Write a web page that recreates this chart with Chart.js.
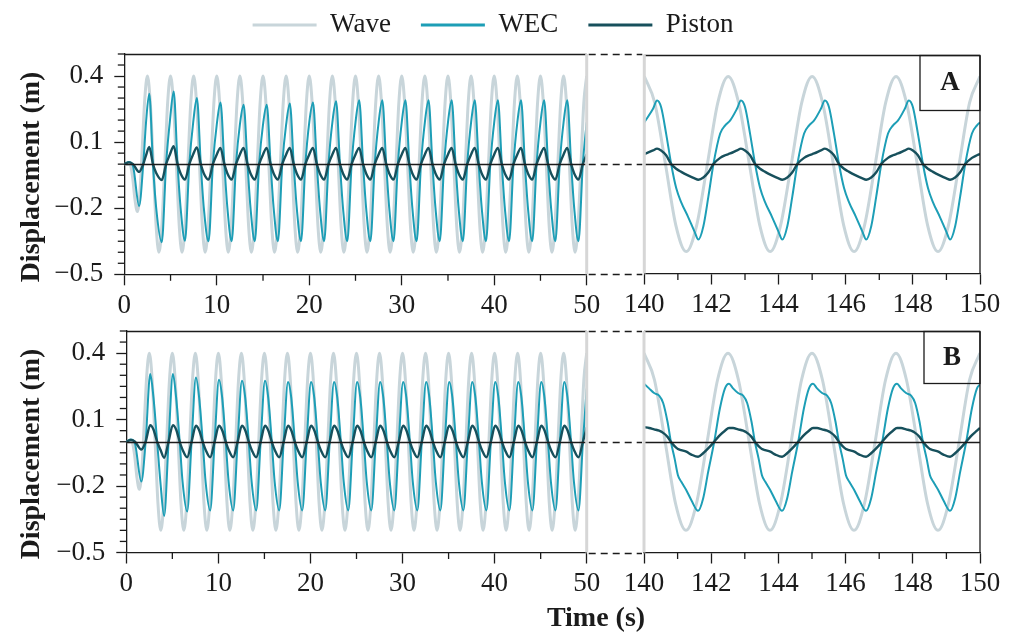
<!DOCTYPE html>
<html>
<head>
<meta charset="utf-8">
<title>Wave, WEC and piston displacement</title>
<script src="https://cdn.jsdelivr.net/npm/chart.js@4.4.1/dist/chart.umd.min.js"></script>
<style>
  html, body { margin: 0; padding: 0; background: #fff; overflow: hidden; }
  #fig { position: relative; width: 1014px; height: 632px; }
  #fig canvas { position: absolute; left: 0; top: 0; }
  #fig canvas#legend { top: -19px; }
</style>
</head>
<body>
<div id="fig">
  <canvas id="topLeft" width="1014" height="632"></canvas>
  <canvas id="topRight" width="1014" height="632"></canvas>
  <canvas id="botLeft" width="1014" height="632"></canvas>
  <canvas id="botRight" width="1014" height="632"></canvas>
  <canvas id="legend" width="1014" height="632"></canvas>
</div>
<script>
// ---------- data ----------
const seriesNames = ['Wave', 'WEC', 'Piston'];

const yTicks = [-0.5, -0.2, 0.1, 0.4];
const yMinorTicks = [-0.45, -0.4, -0.35, -0.3, -0.25, -0.15, -0.1, -0.05, 0,
  0.05, 0.15, 0.2, 0.25, 0.3, 0.35, 0.45, 0.5];
const xTicksLeft = [0, 10, 20, 30, 40, 50];
const xMinorLeft = [5, 15, 25, 35, 45];
const xTicksRight = [140, 142, 144, 146, 148, 150];
const xMinorRight = [141, 143, 145, 147, 149];

// incoming wave, same in both runs
const waveLeftT = [
  0, 0.6, 0.9, 1.15, 1.42, 1.7, 1.96, 2.22,
  2.5, 2.81, 3.13, 3.44, 3.75, 4.06, 4.38, 4.69,
  5, 5.31, 5.63, 5.94, 6.25, 6.56, 6.88, 7.19,
  7.5, 7.81, 8.13, 8.44, 8.75, 9.06, 9.38, 9.69,
  10, 10.31, 10.63, 10.94, 11.25, 11.56, 11.88, 12.19,
  12.5, 12.81, 13.13, 13.44, 13.75, 14.06, 14.38, 14.69,
  15, 15.31, 15.63, 15.94, 16.25, 16.56, 16.88, 17.19,
  17.5, 17.81, 18.13, 18.44, 18.75, 19.06, 19.38, 19.69,
  20, 20.31, 20.63, 20.94, 21.25, 21.56, 21.88, 22.19,
  22.5, 22.81, 23.13, 23.44, 23.75, 24.06, 24.38, 24.69,
  25, 25.31, 25.63, 25.94, 26.25, 26.56, 26.88, 27.19,
  27.5, 27.81, 28.13, 28.44, 28.75, 29.06, 29.38, 29.69,
  30, 30.31, 30.63, 30.94, 31.25, 31.56, 31.88, 32.19,
  32.5, 32.81, 33.13, 33.44, 33.75, 34.06, 34.38, 34.69,
  35, 35.31, 35.63, 35.94, 36.25, 36.56, 36.88, 37.19,
  37.5, 37.81, 38.13, 38.44, 38.75, 39.06, 39.38, 39.69,
  40, 40.31, 40.63, 40.94, 41.25, 41.56, 41.88, 42.19,
  42.5, 42.81, 43.13, 43.44, 43.75, 44.06, 44.38, 44.69,
  45, 45.31, 45.63, 45.94, 46.25, 46.56, 46.88, 47.19,
  47.5, 47.81, 48.13, 48.44, 48.75, 49.06, 49.38, 49.69,
  50
];
const waveLeft = [
  0, 0, -0.06, -0.16, -0.215, -0.12, 0.09, 0.3,
  0.4, 0.28, 0, -0.28, -0.4, -0.28, 0, 0.28,
  0.4, 0.28, 0, -0.28, -0.4, -0.28, 0, 0.28,
  0.4, 0.28, 0, -0.28, -0.4, -0.28, 0, 0.28,
  0.4, 0.28, 0, -0.28, -0.4, -0.28, 0, 0.28,
  0.4, 0.28, 0, -0.28, -0.4, -0.28, 0, 0.28,
  0.4, 0.28, 0, -0.28, -0.4, -0.28, 0, 0.28,
  0.4, 0.28, 0, -0.28, -0.4, -0.28, 0, 0.28,
  0.4, 0.28, 0, -0.28, -0.4, -0.28, 0, 0.28,
  0.4, 0.28, 0, -0.28, -0.4, -0.28, 0, 0.28,
  0.4, 0.28, 0, -0.28, -0.4, -0.28, 0, 0.28,
  0.4, 0.28, 0, -0.28, -0.4, -0.28, 0, 0.28,
  0.4, 0.28, 0, -0.28, -0.4, -0.28, 0, 0.28,
  0.4, 0.28, 0, -0.28, -0.4, -0.28, 0, 0.28,
  0.4, 0.28, 0, -0.28, -0.4, -0.28, 0, 0.28,
  0.4, 0.28, 0, -0.28, -0.4, -0.28, 0, 0.28,
  0.4, 0.28, 0, -0.28, -0.4, -0.28, 0, 0.28,
  0.4, 0.28, 0, -0.28, -0.4, -0.28, 0, 0.28,
  0.4, 0.28, 0, -0.28, -0.4, -0.28, 0, 0.28,
  0.4, 0.28, 0, -0.28, -0.4, -0.28, 0, 0.28,
  0.4
];
const waveRightT = [
  140, 140.31, 140.63, 140.94, 141.25, 141.56, 141.88, 142.19,
  142.5, 142.81, 143.13, 143.44, 143.75, 144.06, 144.38, 144.69,
  145, 145.31, 145.63, 145.94, 146.25, 146.56, 146.88, 147.19,
  147.5, 147.81, 148.13, 148.44, 148.75, 149.06, 149.38, 149.69,
  150
];
const waveRight = [
  0.4, 0.28, 0, -0.28, -0.4, -0.28, 0, 0.28,
  0.4, 0.28, 0, -0.28, -0.4, -0.28, 0, 0.28,
  0.4, 0.28, 0, -0.28, -0.4, -0.28, 0, 0.28,
  0.4, 0.28, 0, -0.28, -0.4, -0.28, 0, 0.28,
  0.4
];

// run A, 0-50 s
const leftTimeA = [
  0, 0.5, 0.95, 1.6, 2.05, 2.35, 2.7, 3.1, 3.45,
  4.05, 4.52, 4.94, 5.34, 5.76, 6.09,
  6.56, 7.03, 7.45, 7.85, 8.27, 8.6,
  9.11, 9.58, 10, 10.4, 10.82, 11.15,
  11.61, 12.08, 12.5, 12.9, 13.32, 13.65,
  14.11, 14.58, 15, 15.4, 15.82, 16.15,
  16.61, 17.08, 17.5, 17.9, 18.32, 18.65,
  19.11, 19.58, 20, 20.4, 20.82, 21.15,
  21.61, 22.08, 22.5, 22.9, 23.32, 23.65,
  24.11, 24.58, 25, 25.4, 25.82, 26.15,
  26.61, 27.08, 27.5, 27.9, 28.32, 28.65,
  29.11, 29.58, 30, 30.4, 30.82, 31.15,
  31.61, 32.08, 32.5, 32.9, 33.32, 33.65,
  34.11, 34.58, 35, 35.4, 35.82, 36.15,
  36.61, 37.08, 37.5, 37.9, 38.32, 38.65,
  39.11, 39.58, 40, 40.4, 40.82, 41.15,
  41.61, 42.08, 42.5, 42.9, 43.32, 43.65,
  44.11, 44.58, 45, 45.4, 45.82, 46.15,
  46.61, 47.08, 47.5, 47.9, 48.32, 48.65,
  49.11, 49.58, 50
];
const wecLeftA = [
  0, 0.01, -0.01, -0.19, 0, 0.19, 0.32, 0, -0.2,
  -0.355, 0, 0.2, 0.33, 0, -0.2,
  -0.348, 0, 0.19, 0.3, 0, -0.2,
  -0.35, 0, 0.18, 0.28, 0, -0.2,
  -0.35, 0, 0.18, 0.27, 0, -0.2,
  -0.35, 0, 0.18, 0.27, 0, -0.2,
  -0.35, 0, 0.18, 0.275, 0, -0.2,
  -0.35, 0, 0.19, 0.28, 0, -0.2,
  -0.35, 0, 0.19, 0.285, 0, -0.2,
  -0.35, 0, 0.19, 0.29, 0, -0.2,
  -0.35, 0, 0.19, 0.29, 0, -0.2,
  -0.35, 0, 0.19, 0.29, 0, -0.2,
  -0.35, 0, 0.19, 0.29, 0, -0.2,
  -0.35, 0, 0.19, 0.29, 0, -0.2,
  -0.35, 0, 0.19, 0.29, 0, -0.2,
  -0.35, 0, 0.19, 0.29, 0, -0.2,
  -0.35, 0, 0.19, 0.29, 0, -0.2,
  -0.35, 0, 0.19, 0.29, 0, -0.2,
  -0.35, 0, 0.19, 0.29, 0, -0.2,
  -0.35, 0, 0.19
];
const pistonLeftA = [
  0, 0.008, 0, -0.035, 0, 0.04, 0.078, 0, -0.04,
  -0.072, 0, 0.045, 0.082, 0, -0.042,
  -0.07, 0, 0.045, 0.076, 0, -0.042,
  -0.07, 0, 0.044, 0.074, 0, -0.042,
  -0.07, 0, 0.044, 0.074, 0, -0.042,
  -0.07, 0, 0.044, 0.074, 0, -0.042,
  -0.07, 0, 0.044, 0.074, 0, -0.042,
  -0.07, 0, 0.044, 0.074, 0, -0.042,
  -0.07, 0, 0.044, 0.074, 0, -0.042,
  -0.07, 0, 0.044, 0.074, 0, -0.042,
  -0.07, 0, 0.044, 0.074, 0, -0.042,
  -0.07, 0, 0.044, 0.074, 0, -0.042,
  -0.07, 0, 0.044, 0.074, 0, -0.042,
  -0.07, 0, 0.044, 0.074, 0, -0.042,
  -0.07, 0, 0.044, 0.074, 0, -0.042,
  -0.07, 0, 0.044, 0.074, 0, -0.042,
  -0.07, 0, 0.044, 0.074, 0, -0.042,
  -0.07, 0, 0.044, 0.074, 0, -0.042,
  -0.07, 0, 0.044, 0.074, 0, -0.042,
  -0.07, 0, 0.045
];

// run B, 0-50 s
const leftTimeB = [
  0, 0.5, 0.95, 1.63, 2.1, 2.6, 2.95, 3.35, 3.7,
  4.11, 4.59, 5.06, 5.41, 5.8, 6.11,
  6.61, 7.09, 7.56, 7.91, 8.3, 8.61,
  9.11, 9.59, 10.06, 10.41, 10.8, 11.11,
  11.61, 12.09, 12.56, 12.91, 13.3, 13.61,
  14.11, 14.59, 15.06, 15.41, 15.8, 16.11,
  16.61, 17.09, 17.56, 17.91, 18.3, 18.61,
  19.11, 19.59, 20.06, 20.41, 20.8, 21.11,
  21.61, 22.09, 22.56, 22.91, 23.3, 23.61,
  24.11, 24.59, 25.06, 25.41, 25.8, 26.11,
  26.61, 27.09, 27.56, 27.91, 28.3, 28.61,
  29.11, 29.59, 30.06, 30.41, 30.8, 31.11,
  31.61, 32.09, 32.56, 32.91, 33.3, 33.61,
  34.11, 34.59, 35.06, 35.41, 35.8, 36.11,
  36.61, 37.09, 37.56, 37.91, 38.3, 38.61,
  39.11, 39.59, 40.06, 40.41, 40.8, 41.11,
  41.61, 42.09, 42.56, 42.91, 43.3, 43.61,
  44.11, 44.59, 45.06, 45.41, 45.8, 46.11,
  46.61, 47.09, 47.56, 47.91, 48.3, 48.61,
  49.11, 49.59, 50
];
const wecLeftB = [
  0, 0.01, -0.01, -0.18, 0, 0.306, 0.2, 0, -0.18,
  -0.335, 0, 0.306, 0.2, 0, -0.18,
  -0.315, 0, 0.29, 0.2, 0, -0.18,
  -0.31, 0, 0.28, 0.2, 0, -0.18,
  -0.31, 0, 0.275, 0.2, 0, -0.18,
  -0.31, 0, 0.275, 0.2, 0, -0.18,
  -0.31, 0, 0.27, 0.2, 0, -0.18,
  -0.31, 0, 0.27, 0.2, 0, -0.18,
  -0.31, 0, 0.27, 0.2, 0, -0.18,
  -0.31, 0, 0.27, 0.2, 0, -0.18,
  -0.31, 0, 0.27, 0.2, 0, -0.18,
  -0.31, 0, 0.27, 0.2, 0, -0.18,
  -0.31, 0, 0.27, 0.2, 0, -0.18,
  -0.31, 0, 0.27, 0.2, 0, -0.18,
  -0.31, 0, 0.27, 0.2, 0, -0.18,
  -0.31, 0, 0.27, 0.2, 0, -0.18,
  -0.31, 0, 0.27, 0.2, 0, -0.18,
  -0.31, 0, 0.27, 0.2, 0, -0.18,
  -0.31, 0, 0.27, 0.2, 0, -0.18,
  -0.31, 0, 0.24
];
const pistonLeftB = [
  0, 0.008, 0, -0.035, 0, 0.075, 0.055, 0, -0.035,
  -0.072, 0, 0.075, 0.055, 0, -0.036,
  -0.07, 0, 0.072, 0.052, 0, -0.036,
  -0.07, 0, 0.072, 0.052, 0, -0.036,
  -0.07, 0, 0.072, 0.052, 0, -0.036,
  -0.07, 0, 0.072, 0.052, 0, -0.036,
  -0.07, 0, 0.072, 0.052, 0, -0.036,
  -0.07, 0, 0.072, 0.052, 0, -0.036,
  -0.07, 0, 0.072, 0.052, 0, -0.036,
  -0.07, 0, 0.072, 0.052, 0, -0.036,
  -0.07, 0, 0.072, 0.052, 0, -0.036,
  -0.07, 0, 0.072, 0.052, 0, -0.036,
  -0.07, 0, 0.072, 0.052, 0, -0.036,
  -0.07, 0, 0.072, 0.052, 0, -0.036,
  -0.07, 0, 0.072, 0.052, 0, -0.036,
  -0.07, 0, 0.072, 0.052, 0, -0.036,
  -0.07, 0, 0.072, 0.052, 0, -0.036,
  -0.07, 0, 0.072, 0.052, 0, -0.036,
  -0.07, 0, 0.072, 0.052, 0, -0.036,
  -0.07, 0, 0.065
];

// run A, 140-150 s
const rightTimeA = [
  140, 140.26, 140.38, 140.5, 140.65, 140.8, 140.95, 141.1, 141.3, 141.5,
  141.61, 141.76, 141.91, 142.06, 142.26, 142.41, 142.56, 142.76,
  142.88, 143, 143.15, 143.3, 143.45, 143.6, 143.8, 144,
  144.11, 144.26, 144.41, 144.56, 144.76, 144.91, 145.06, 145.26,
  145.38, 145.5, 145.65, 145.8, 145.95, 146.1, 146.3, 146.5,
  146.61, 146.76, 146.91, 147.06, 147.26, 147.41, 147.56, 147.76,
  147.88, 148, 148.15, 148.3, 148.45, 148.6, 148.8, 149,
  149.11, 149.26, 149.41, 149.56, 149.76, 149.91, 150
];
const wecRightA = [
  0.19, 0.252, 0.29, 0.26, 0.139, 0, -0.11, -0.175, -0.24, -0.31,
  -0.345, -0.284, -0.148, 0, 0.139, 0.176, 0.199, 0.252,
  0.29, 0.26, 0.139, 0, -0.11, -0.175, -0.24, -0.31,
  -0.345, -0.284, -0.148, 0, 0.139, 0.176, 0.199, 0.252,
  0.29, 0.26, 0.139, 0, -0.11, -0.175, -0.24, -0.31,
  -0.345, -0.284, -0.148, 0, 0.139, 0.176, 0.199, 0.252,
  0.29, 0.26, 0.139, 0, -0.11, -0.175, -0.24, -0.31,
  -0.345, -0.284, -0.148, 0, 0.139, 0.176, 0.19
];
const pistonRightA = [
  0.046, 0.062, 0.07, 0.062, 0.04, 0, -0.022, -0.036, -0.052, -0.066,
  -0.072, -0.062, -0.038, 0, 0.028, 0.04, 0.048, 0.062,
  0.07, 0.062, 0.04, 0, -0.022, -0.036, -0.052, -0.066,
  -0.072, -0.062, -0.038, 0, 0.028, 0.04, 0.048, 0.062,
  0.07, 0.062, 0.04, 0, -0.022, -0.036, -0.052, -0.066,
  -0.072, -0.062, -0.038, 0, 0.028, 0.04, 0.048, 0.062,
  0.07, 0.062, 0.04, 0, -0.022, -0.036, -0.052, -0.066,
  -0.072, -0.062, -0.038, 0, 0.028, 0.04, 0.046
];

// run B, 140-150 s
const rightTimeB = [
  140, 140.15, 140.3, 140.45, 140.57, 140.7, 140.8, 140.91, 141.01, 141.11, 141.26, 141.41,
  141.61, 141.76, 141.91, 142.09, 142.26, 142.41, 142.53, 142.65, 142.8,
  142.95, 143.07, 143.2, 143.3, 143.41, 143.51, 143.61, 143.76, 143.91,
  144.11, 144.26, 144.41, 144.59, 144.76, 144.91, 145.03, 145.15, 145.3,
  145.45, 145.57, 145.7, 145.8, 145.91, 146.01, 146.11, 146.26, 146.41,
  146.61, 146.76, 146.91, 147.09, 147.26, 147.41, 147.53, 147.65, 147.8,
  147.95, 148.07, 148.2, 148.3, 148.41, 148.51, 148.61, 148.76, 148.91,
  149.11, 149.26, 149.41, 149.59, 149.76, 149.91, 150
];
const wecRightB = [
  0.262, 0.241, 0.22, 0.208, 0.175, 0.09, 0, -0.075, -0.151, -0.181, -0.219, -0.264,
  -0.312, -0.256, -0.136, 0, 0.151, 0.241, 0.262, 0.241, 0.22,
  0.208, 0.175, 0.09, 0, -0.075, -0.151, -0.181, -0.219, -0.264,
  -0.312, -0.256, -0.136, 0, 0.151, 0.241, 0.262, 0.241, 0.22,
  0.208, 0.175, 0.09, 0, -0.075, -0.151, -0.181, -0.219, -0.264,
  -0.312, -0.256, -0.136, 0, 0.151, 0.241, 0.262, 0.241, 0.22,
  0.208, 0.175, 0.09, 0, -0.075, -0.151, -0.181, -0.219, -0.264,
  -0.312, -0.256, -0.136, 0, 0.151, 0.241, 0.258
];
const pistonRightB = [
  0.066, 0.062, 0.056, 0.05, 0.04, 0.022, 0, -0.02, -0.033, -0.038, -0.045, -0.058,
  -0.068, -0.052, -0.03, 0, 0.03, 0.05, 0.062, 0.062, 0.056,
  0.05, 0.04, 0.022, 0, -0.02, -0.033, -0.038, -0.045, -0.058,
  -0.068, -0.052, -0.03, 0, 0.03, 0.05, 0.062, 0.062, 0.056,
  0.05, 0.04, 0.022, 0, -0.02, -0.033, -0.038, -0.045, -0.058,
  -0.068, -0.052, -0.03, 0, 0.03, 0.05, 0.062, 0.062, 0.056,
  0.05, 0.04, 0.022, 0, -0.02, -0.033, -0.038, -0.045, -0.058,
  -0.068, -0.052, -0.03, 0, 0.03, 0.05, 0.062
];

// ---------- look ----------
const FIG_W = 1014, FIG_H = 632;
const AXIS_Y_W = 70, AXIS_X_H = 60;
const ink = '#1b1b1b';
const serif = '"Liberation Serif", "Times New Roman", serif';
const colors = { wave: '#c8d5da', wec: '#1d9eb6', piston: '#17505c' };

// plot areas in page pixels
const areas = {
  topLeft:  { l: 124.3, t: 54,   r: 586.7, b: 274.3 },
  topRight: { l: 644.3, t: 54.5, r: 980,   b: 273.5 },
  botLeft:  { l: 126.3, t: 331,  r: 586.7, b: 552.5 },
  botRight: { l: 644,   t: 331,  r: 980,   b: 552.5 }
};

Chart.defaults.font.family = serif;
Chart.defaults.color = ink;
Chart.defaults.animation = false;

const pts = (ts, vs) => ts.map((t, i) => ({ x: t, y: vs[i] }));
const fmtY = v => (v < 0 ? '\u2212' : '') + Math.abs(v).toFixed(1);
const crisp = v => Math.round(v) + 0.5;

function seg(ctx, x1, y1, x2, y2) {
  ctx.beginPath();
  ctx.moveTo(x1, y1);
  ctx.lineTo(x2, y2);
  ctx.stroke();
}

// frame, zero line, minor ticks, axis-break marks, panel tag and titles
const panelDecor = {
  id: 'panelDecor',
  afterDatasetsDraw(chart, args, o) {
    const { ctx, chartArea: a } = chart;
    const x = chart.scales.x, y = chart.scales.y;
    const y0 = crisp(y.getPixelForValue(0));
    const top = crisp(a.top);
    ctx.save();
    ctx.setLineDash([]);
    ctx.strokeStyle = ink;
    ctx.lineWidth = 1.3;
    seg(ctx, a.left, y0, a.right, y0);
    seg(ctx, a.left, top, a.right, top);
    if (o.side === 'right') seg(ctx, a.right, top, a.right, a.bottom);

    o.minorX.forEach(v => {
      const px = x.getPixelForValue(v);
      seg(ctx, px, a.bottom, px, a.bottom + 6.5);
    });
    (o.minorY || []).forEach(v => {
      const py = y.getPixelForValue(v);
      seg(ctx, a.left - 6.5, py, a.left, py);
    });

    if (o.linkTo) {
      ctx.setLineDash([7, 5]);
      [top, y0, crisp(a.bottom)].forEach(py => seg(ctx, a.right + 2, py, o.linkTo - 2, py));
      ctx.setLineDash([]);
    }

    ctx.strokeStyle = '#d6d6d6';
    ctx.lineWidth = 3;
    const bx = o.side === 'left' ? a.right : a.left;
    seg(ctx, bx, a.top, bx, a.bottom);

    ctx.fillStyle = ink;
    ctx.textAlign = 'center';
    ctx.textBaseline = 'middle';
    if (o.tag) {
      ctx.strokeStyle = ink;
      ctx.lineWidth = 1.3;
      ctx.strokeRect(a.right - o.tag.w, top, o.tag.w, o.tag.h);
      ctx.font = 'bold 27px ' + serif;
      ctx.fillText(o.tag.text, a.right - o.tag.w / 2, a.top + o.tag.h / 2 + 1);
    }
    if (o.yTitle) {
      ctx.save();
      ctx.translate(o.yTitle.x, o.yTitle.y);
      ctx.rotate(-Math.PI / 2);
      ctx.font = 'bold 28px ' + serif;
      ctx.fillText(o.yTitle.text, 0, 0);
      ctx.restore();
    }
    if (o.xTitle) {
      ctx.font = 'bold 28px ' + serif;
      ctx.fillText(o.xTitle.text, o.xTitle.x, o.xTitle.y);
    }
    ctx.restore();
  }
};

function lines(wave, wec, piston) {
  const base = { pointRadius: 0, fill: false, cubicInterpolationMode: 'monotone', borderJoinStyle: 'round' };
  return [
    { ...base, label: seriesNames[0], data: wave, borderColor: colors.wave, borderWidth: 3, order: 3 },
    { ...base, label: seriesNames[1], data: wec, borderColor: colors.wec, borderWidth: 2, order: 2 },
    { ...base, label: seriesNames[2], data: piston, borderColor: colors.piston, borderWidth: 2.4, order: 1 }
  ];
}

function panel(id, side, xTicks, decor, datasets) {
  const area = areas[id];
  const left = side === 'left';
  const tickFont = { size: 27 };
  return new Chart(document.getElementById(id), {
    type: 'line',
    data: { datasets },
    options: {
      responsive: false,
      events: [],
      layout: {
        // the y axis keeps its fixed width even where it is hidden
        padding: {
          left: area.l - AXIS_Y_W,
          top: area.t,
          right: FIG_W - area.r,
          bottom: FIG_H - area.b - AXIS_X_H
        }
      },
      plugins: {
        legend: { display: false },
        tooltip: { enabled: false },
        panelDecor: { side, ...decor }
      },
      scales: {
        x: {
          type: 'linear',
          min: xTicks[0],
          max: xTicks[xTicks.length - 1],
          afterBuildTicks: s => { s.ticks = xTicks.map(v => ({ value: v })); },
          afterFit: s => { s.height = AXIS_X_H; },
          grid: { drawOnChartArea: false, tickLength: 11, tickWidth: 1.3, tickColor: ink },
          border: { color: ink, width: 1.3 },
          ticks: { font: tickFont, color: ink, padding: 4, maxRotation: 0, autoSkip: false,
                   callback: v => String(v) }
        },
        y: {
          type: 'linear',
          display: left,
          min: -0.5,
          max: 0.5,
          afterBuildTicks: s => { s.ticks = yTicks.map(v => ({ value: v })); },
          afterFit: s => { s.width = AXIS_Y_W; },
          grid: { drawOnChartArea: false, tickLength: 10, tickWidth: 1.3, tickColor: ink },
          border: { color: ink, width: 1.3 },
          ticks: { font: tickFont, color: ink, padding: 11, autoSkip: false, callback: v => fmtY(v) }
        }
      }
    },
    plugins: [panelDecor]
  });
}

panel('topLeft', 'left', xTicksLeft, {
  minorX: xMinorLeft, minorY: yMinorTicks, linkTo: areas.topRight.l,
  yTitle: { text: 'Displacement (m)', x: 32, y: 177 }
}, lines(pts(waveLeftT, waveLeft), pts(leftTimeA, wecLeftA), pts(leftTimeA, pistonLeftA)));

panel('topRight', 'right', xTicksRight, {
  minorX: xMinorRight, tag: { text: 'A', w: 60, h: 55 }
}, lines(pts(waveRightT, waveRight), pts(rightTimeA, wecRightA), pts(rightTimeA, pistonRightA)));

panel('botLeft', 'left', xTicksLeft, {
  minorX: xMinorLeft, minorY: yMinorTicks, linkTo: areas.botRight.l,
  yTitle: { text: 'Displacement (m)', x: 32, y: 454 },
  xTitle: { text: 'Time (s)', x: 596, y: 619 }
}, lines(pts(waveLeftT, waveLeft), pts(leftTimeB, wecLeftB), pts(leftTimeB, pistonLeftB)));

panel('botRight', 'right', xTicksRight, {
  minorX: xMinorRight, tag: { text: 'B', w: 56, h: 52 }
}, lines(pts(waveRightT, waveRight), pts(rightTimeB, wecRightB), pts(rightTimeB, pistonRightB)));

// shared legend across the top
new Chart(document.getElementById('legend'), {
  type: 'line',
  data: {
    datasets: [
      { label: seriesNames[0], data: [], borderColor: colors.wave, backgroundColor: colors.wave, borderWidth: 0 },
      { label: seriesNames[1], data: [], borderColor: colors.wec, backgroundColor: colors.wec, borderWidth: 0 },
      { label: seriesNames[2], data: [], borderColor: colors.piston, backgroundColor: colors.piston, borderWidth: 0 }
    ]
  },
  options: {
    responsive: false,
    events: [],
    layout: { padding: { left: 0, right: 28, top: 0.5, bottom: 0 } },
    scales: { x: { display: false }, y: { display: false } },
    plugins: {
      tooltip: { enabled: false },
      legend: {
        position: 'top',
        align: 'center',
        labels: { boxWidth: 64, boxHeight: 3, padding: 30, color: ink, font: { size: 27 } }
      }
    }
  }
});
</script>
</body>
</html>
